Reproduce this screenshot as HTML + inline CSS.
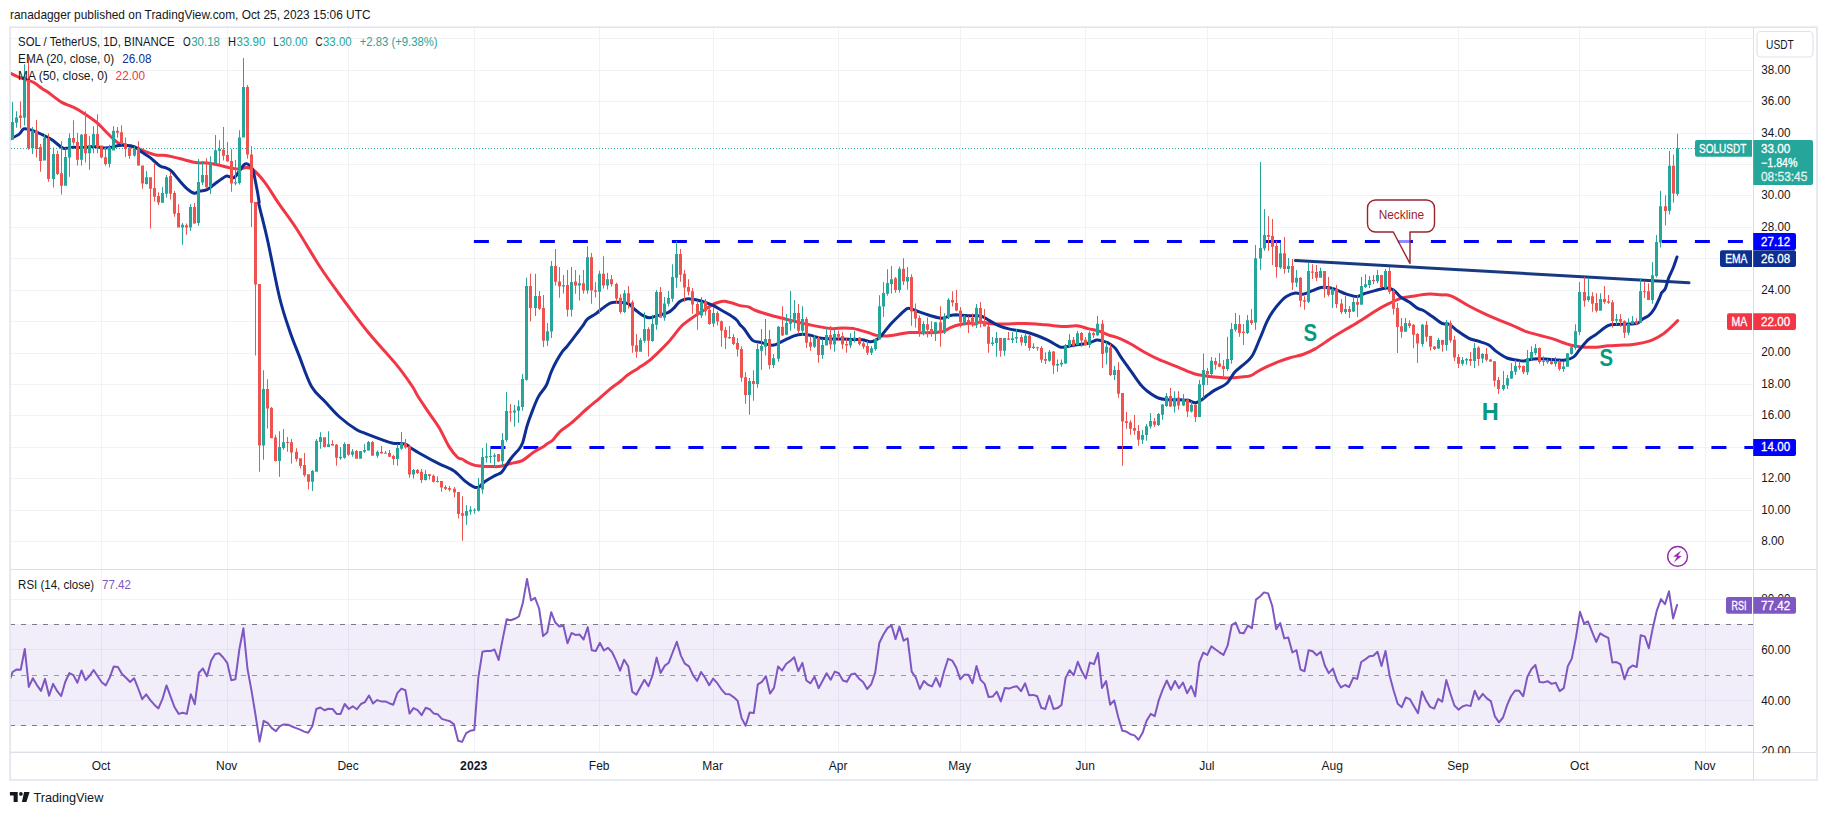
<!DOCTYPE html>
<html lang="en"><head><meta charset="utf-8"><title>SOL / TetherUS chart</title>
<style>html,body{margin:0;padding:0;background:#fff}body{width:1827px;height:815px;overflow:hidden}svg{display:block}</style>
</head><body>
<svg width="1827" height="815" viewBox="0 0 1827 815" font-family='"Liberation Sans", "DejaVu Sans", sans-serif' font-size="12" fill="#131722">
<rect width="1827" height="815" fill="#fff"/>
<defs><clipPath id="cm"><rect x="10.5" y="27.5" width="1743" height="542"/></clipPath><clipPath id="cr"><rect x="10.5" y="570" width="1743" height="182.5"/></clipPath></defs>
<path d="M101.5 27.5V752.5M227.5 27.5V752.5M348.5 27.5V752.5M474.5 27.5V752.5M599.5 27.5V752.5M713.5 27.5V752.5M838.5 27.5V752.5M960.5 27.5V752.5M1085.5 27.5V752.5M1207.5 27.5V752.5M1332.5 27.5V752.5M1458.5 27.5V752.5M1579.5 27.5V752.5M1705.5 27.5V752.5M10.5 541.5H1753.5M10.5 510.5H1753.5M10.5 478.5H1753.5M10.5 447.5H1753.5M10.5 415.5H1753.5M10.5 384.5H1753.5M10.5 353.5H1753.5M10.5 321.5H1753.5M10.5 290.5H1753.5M10.5 258.5H1753.5M10.5 227.5H1753.5M10.5 195.5H1753.5M10.5 164.5H1753.5M10.5 133.5H1753.5M10.5 101.5H1753.5M10.5 70.5H1753.5M10.5 38.5H1753.5M10.5 751.5H1753.5M10.5 700.5H1753.5M10.5 649.5H1753.5M10.5 599.5H1753.5" stroke="#f0f2f5" stroke-width="1" fill="none"/>
<rect x="10.5" y="624" width="1743" height="102" fill="#7e57c2" fill-opacity="0.1"/>
<path d="M10 624.5H1753.5" stroke="#787b86" stroke-width="1" stroke-dasharray="5 6" fill="none"/>
<path d="M10 675.5H1753.5" stroke="#9598a1" stroke-width="1" stroke-dasharray="5 6" fill="none"/>
<path d="M10 725.5H1753.5" stroke="#787b86" stroke-width="1" stroke-dasharray="5 6" fill="none"/>
<path d="M473.9 241.5H1753" stroke="#0000ff" stroke-width="3" stroke-dasharray="15 18" fill="none"/>
<path d="M490.4 447.5H1753" stroke="#0000ff" stroke-width="3" stroke-dasharray="15 18" fill="none"/>
<path d="M1295.5 260.6L1689 282.8" stroke="#173a80" stroke-width="3" stroke-linecap="round" fill="none"/>
<path d="M1375.5 200H1426.5a8 8 0 0 1 8 8V224a8 8 0 0 1 -8 8H1410V263.5L1393.3 232H1375.5a8 8 0 0 1 -8 -8V208a8 8 0 0 1 8 -8z" fill="#fff" fill-opacity="0.55" stroke="#9c2328" stroke-width="1.4" stroke-linejoin="round"/>
<text x="1378.7" y="219" fill="#9c2328" textLength="45.4" lengthAdjust="spacingAndGlyphs">Neckline</text>
<text x="1303.4" y="341.2" fill="#089981" font-size="23.5" font-weight="bold" textLength="13.6" lengthAdjust="spacingAndGlyphs">S</text>
<text x="1481.8" y="419.8" fill="#089981" font-size="23.5" font-weight="bold" textLength="17" lengthAdjust="spacingAndGlyphs">H</text>
<text x="1599.6" y="366" fill="#089981" font-size="23.5" font-weight="bold" textLength="13.6" lengthAdjust="spacingAndGlyphs">S</text>
<circle cx="1677.6" cy="556.4" r="9.9" stroke="#9c27b0" stroke-width="1.4" fill="none"/><path d="M1680.7 551.1L1673.4 556.5L1677.2 556.7L1674.2 561.9L1681.6 556.1L1678 556z" fill="#9c27b0" stroke="#9c27b0" stroke-width="0.2" stroke-linejoin="round"/>
<g clip-path="url(#cm)"><path d="M10.7 73.3C12.1 74.0 16.2 76.2 19.2 77.4C22.2 78.6 26.0 79.5 28.5 80.4C31.0 81.3 32.0 81.5 34.2 82.8C36.5 84.1 39.8 87.0 42.0 88.5C44.2 90.0 44.4 89.8 47.7 92.1C51.0 94.4 57.9 100.0 61.9 102.4C65.9 104.8 68.6 105.0 71.9 106.6C75.2 108.2 77.8 109.4 81.8 112.0C85.8 114.6 92.3 119.0 96.1 122.0C99.9 125.0 101.8 127.5 104.6 130.3C107.4 133.1 110.8 136.6 113.2 138.8C115.6 141.0 116.7 142.2 118.8 143.3C120.9 144.4 123.2 144.4 126.0 145.1C128.8 145.8 132.8 146.6 135.9 147.6C139.0 148.6 141.2 150.0 144.5 151.2C147.8 152.4 152.2 154.3 155.8 155.0C159.4 155.7 162.5 155.0 165.8 155.4C169.1 155.8 172.7 156.9 175.8 157.6C178.9 158.3 181.0 158.9 184.3 159.7C187.6 160.5 191.9 162.0 195.7 162.6C199.5 163.2 203.3 162.6 207.1 163.0C210.9 163.4 214.9 164.2 218.5 165.0C222.1 165.8 225.1 166.8 228.4 167.5C231.7 168.2 235.3 169.0 238.4 169.0C241.5 169.0 244.3 167.3 246.9 167.5C249.5 167.7 251.0 167.9 254.0 170.4C257.0 172.9 260.8 177.0 265.0 182.6C269.2 188.2 274.0 196.6 279.2 204.2C284.4 211.8 289.4 217.9 296.2 228.3C303.0 238.7 312.9 255.9 320.0 266.8C327.1 277.7 330.9 282.8 338.8 293.5C346.7 304.2 357.8 319.5 367.3 331.2C376.8 342.9 388.3 354.8 395.8 363.9C403.3 373.0 408.4 380.6 412.1 386.0C415.8 391.4 415.0 391.7 417.9 396.3C420.8 400.9 425.8 408.2 429.3 413.4C432.9 418.6 435.9 422.1 439.2 427.7C442.5 433.3 446.1 441.9 449.2 446.9C452.3 451.9 455.6 455.5 457.7 457.5C459.8 459.5 460.3 458.2 462.0 459.0C463.7 459.8 465.6 461.4 467.7 462.5C469.8 463.6 472.8 464.8 474.8 465.4C476.8 466.0 477.9 465.7 479.6 465.9C481.3 466.1 482.7 466.3 484.8 466.4C486.9 466.5 489.6 466.6 492.2 466.6C494.8 466.6 497.4 466.8 500.5 466.3C503.6 465.8 507.3 464.4 510.9 463.5C514.5 462.6 518.5 462.5 522.3 460.6C526.1 458.7 529.9 454.7 533.5 452.3C537.1 449.9 541.5 447.8 543.7 446.4C545.9 445.0 545.4 445.0 546.9 443.9C548.4 442.8 550.8 442.0 552.9 440.0C555.0 438.0 556.7 434.6 559.7 431.8C562.7 429.0 566.6 427.0 571.1 423.2C575.6 419.4 582.0 413.1 586.7 409.0C591.4 404.9 595.5 401.7 599.5 398.3C603.5 394.9 607.6 391.1 610.9 388.4C614.2 385.7 616.6 384.3 619.5 382.0C622.4 379.7 624.9 377.1 628.0 374.8C631.1 372.5 634.5 370.8 638.0 368.4C641.5 366.0 645.8 363.4 649.3 360.6C652.8 357.8 656.2 354.4 659.3 351.4C662.4 348.4 665.3 345.5 667.8 342.8C670.3 340.1 671.9 337.9 674.3 335.0C676.7 332.1 678.9 328.5 682.1 325.5C685.3 322.5 690.0 319.4 693.5 316.9C697.0 314.4 700.1 312.6 703.4 310.5C706.7 308.4 710.5 305.6 713.4 304.1C716.2 302.6 718.6 302.2 720.5 301.7C722.4 301.2 722.7 301.0 724.8 301.3C726.9 301.6 730.6 302.6 733.1 303.3C735.6 304.0 737.4 305.0 740.0 305.6C742.6 306.2 745.9 306.1 748.5 306.9C751.1 307.7 751.3 308.9 755.6 310.5C759.9 312.1 768.2 314.6 774.1 316.2C780.0 317.8 785.0 318.9 791.2 320.4C797.4 321.9 804.5 323.7 811.1 325.1C817.7 326.5 825.8 328.1 831.0 328.6C836.2 329.1 838.6 328.0 842.4 328.0C846.2 328.0 849.5 327.9 853.8 328.6C858.1 329.4 864.2 331.4 868.0 332.5C871.8 333.6 873.6 334.8 876.5 335.4C879.4 336.0 881.8 336.2 885.1 336.1C888.4 336.0 892.5 335.3 896.5 334.7C900.5 334.1 904.6 332.8 909.3 332.5C914.0 332.2 919.4 332.9 924.9 332.8C930.4 332.7 937.7 332.7 942.0 331.8C946.3 330.9 947.6 328.8 950.5 327.6C953.4 326.4 955.8 325.4 959.1 324.7C962.4 324.0 968.0 323.4 970.5 323.3C973.0 323.2 972.6 324.3 974.2 324.1C975.8 323.9 977.6 322.0 980.0 321.9C982.4 321.8 984.7 323.0 988.5 323.4C992.3 323.8 996.8 324.1 1002.7 324.1C1008.6 324.1 1016.9 323.3 1024.0 323.4C1031.1 323.5 1039.0 324.3 1045.4 324.8C1051.8 325.3 1057.3 326.4 1062.5 326.6C1067.7 326.8 1072.4 325.5 1076.7 325.8C1081.0 326.1 1084.3 327.7 1088.1 328.6C1091.9 329.5 1096.2 330.2 1099.5 331.2C1102.8 332.2 1104.7 333.6 1108.0 334.8C1111.3 336.0 1115.6 336.8 1119.4 338.3C1123.2 339.8 1126.5 341.6 1130.8 344.0C1135.1 346.4 1140.3 349.9 1145.0 352.5C1149.7 355.1 1154.5 357.6 1159.2 359.7C1164.0 361.8 1170.1 363.9 1173.5 365.3C1176.9 366.7 1177.2 366.8 1179.6 367.8C1182.0 368.8 1184.7 370.1 1187.7 371.3C1190.8 372.5 1194.3 374.0 1197.9 374.8C1201.5 375.6 1205.4 375.9 1209.3 376.4C1213.2 376.9 1217.6 377.3 1221.2 377.6C1224.8 377.9 1227.5 378.2 1230.8 378.1C1234.1 378.0 1237.5 377.5 1240.8 377.1C1244.1 376.7 1247.9 376.6 1250.8 375.6C1253.7 374.6 1255.2 372.8 1258.1 371.2C1261.0 369.6 1264.7 367.8 1268.1 366.2C1271.5 364.6 1275.0 363.0 1278.7 361.6C1282.4 360.2 1286.1 358.9 1290.1 357.7C1294.1 356.5 1298.7 356.0 1302.9 354.5C1307.1 353.0 1310.3 351.7 1315.2 348.9C1320.1 346.1 1327.1 340.8 1332.3 337.5C1337.5 334.2 1341.8 331.8 1346.5 329.0C1351.2 326.2 1356.0 323.5 1360.8 320.5C1365.5 317.5 1370.3 314.1 1375.0 311.2C1379.7 308.3 1384.9 305.5 1389.2 303.4C1393.5 301.3 1396.8 299.6 1400.6 298.4C1404.4 297.2 1407.2 297.0 1412.0 296.3C1416.8 295.6 1424.3 294.4 1429.1 294.1C1433.8 293.9 1436.8 294.5 1440.5 294.8C1444.2 295.1 1446.7 294.3 1451.4 296.1C1456.1 297.9 1463.3 302.9 1468.5 305.7C1473.7 308.5 1478.0 310.6 1482.7 312.8C1487.4 315.1 1492.2 317.2 1496.9 319.2C1501.7 321.2 1506.5 322.9 1511.2 324.9C1516.0 326.9 1520.7 329.6 1525.4 331.3C1530.1 333.0 1534.9 334.0 1539.6 335.3C1544.3 336.6 1549.5 337.8 1553.8 339.1C1558.1 340.5 1561.9 342.3 1565.2 343.4C1568.5 344.5 1570.5 345.2 1573.8 345.8C1577.1 346.4 1581.4 347.0 1585.2 347.2C1589.0 347.4 1592.7 347.4 1596.5 347.2C1600.3 347.0 1604.1 346.1 1607.9 345.8C1611.7 345.5 1615.5 345.4 1619.3 345.2C1623.1 345.0 1626.9 345.2 1630.7 344.8C1634.5 344.4 1638.5 343.7 1642.1 342.9C1645.6 342.1 1648.7 341.5 1652.0 340.1C1655.3 338.8 1658.9 336.9 1662.0 334.8C1665.1 332.7 1667.9 330.1 1670.5 327.7C1673.1 325.3 1676.5 321.8 1677.7 320.6" stroke="#f23645" stroke-width="3" fill="none" stroke-linejoin="round" stroke-linecap="round" /></g>
<g clip-path="url(#cm)"><path d="M10.7 138.8C12.1 138.0 16.9 135.8 19.2 134.1C21.4 132.4 21.8 129.4 24.2 128.8C26.6 128.2 30.3 129.8 33.5 130.8C36.7 131.9 40.3 133.6 43.4 135.1C46.5 136.6 48.9 137.7 52.0 139.8C55.1 141.9 59.5 146.2 61.9 147.6C64.3 149.0 64.3 148.4 66.2 148.3C68.1 148.2 70.2 147.3 73.3 147.2C76.4 147.1 81.4 147.7 84.7 147.6C88.0 147.5 89.9 146.4 93.2 146.5C96.5 146.6 101.3 147.8 104.6 147.9C107.9 148.0 110.8 147.3 113.2 146.9C115.6 146.5 116.7 145.7 118.8 145.5C120.9 145.3 123.4 145.3 126.0 145.5C128.6 145.7 131.9 145.8 134.5 146.9C137.1 148.0 139.0 150.1 141.6 151.9C144.2 153.7 147.1 155.2 150.2 157.6C153.3 160.0 157.5 164.4 160.1 166.1C162.7 167.8 163.9 167.0 165.8 167.8C167.7 168.6 169.4 169.1 171.5 171.1C173.6 173.1 176.0 176.6 178.6 179.6C181.2 182.6 184.6 186.6 187.2 188.9C189.8 191.2 192.2 192.8 194.3 193.2C196.4 193.5 197.9 191.6 200.0 191.0C202.1 190.4 204.5 190.9 207.1 189.6C209.7 188.3 213.0 185.1 215.6 183.2C218.2 181.3 220.8 179.4 222.7 178.2C224.6 177.0 225.1 176.2 227.0 176.1C228.9 176.0 232.0 178.4 234.1 177.5C236.2 176.6 238.1 172.5 239.8 170.4C241.5 168.3 242.8 165.8 244.1 164.7C245.4 163.6 246.2 163.3 247.6 164.0C249.0 164.7 251.3 166.0 252.6 169.0C253.9 172.0 254.4 176.5 255.5 181.8C256.6 187.1 258.4 197.0 259.0 201.0C259.6 205.0 257.7 198.9 259.2 205.6C260.7 212.3 264.4 225.7 267.8 241.2C271.2 256.7 276.1 283.5 279.8 298.5C283.5 313.5 286.6 321.7 289.8 331.2C293.0 340.7 295.4 346.2 299.0 355.4C302.6 364.6 307.1 378.7 311.5 386.5C315.9 394.3 320.7 396.9 325.4 402.0C330.1 407.1 334.4 412.4 339.6 417.0C344.8 421.6 352.4 427.1 356.7 429.8C361.0 432.5 360.9 431.6 365.2 433.3C369.5 435.0 377.7 438.1 382.3 439.8C386.9 441.5 389.2 442.6 393.0 443.3C396.8 444.0 402.1 443.2 405.1 444.0C408.1 444.8 408.0 446.1 410.8 447.9C413.6 449.7 417.5 452.0 422.2 454.7C426.9 457.4 433.9 461.2 439.2 463.9C444.4 466.6 449.4 467.9 453.7 470.8C458.0 473.7 461.8 478.4 465.1 481.1C468.4 483.8 471.4 485.8 473.7 486.8C475.9 487.8 476.7 488.1 478.6 487.2C480.5 486.3 482.6 483.2 485.0 481.5C487.4 479.8 490.5 478.0 492.9 476.7C495.2 475.4 497.5 474.6 499.1 473.7C500.7 472.8 500.4 473.8 502.4 471.3C504.4 468.8 508.0 462.3 510.9 458.5C513.8 454.7 517.5 451.3 519.5 448.5C521.5 445.7 521.6 445.6 522.9 441.9C524.1 438.2 525.6 430.8 527.0 426.1C528.4 421.5 529.3 418.9 531.2 414.0C533.1 409.1 535.8 401.6 538.3 396.9C540.8 392.1 544.1 389.6 546.2 385.5C548.4 381.4 549.4 376.1 551.2 372.0C553.0 367.9 554.9 364.0 556.8 360.6C558.7 357.2 560.8 353.7 562.5 351.4C564.2 349.1 565.1 348.7 566.8 346.7C568.5 344.7 570.9 341.4 572.5 339.3C574.1 337.2 574.7 336.4 576.4 334.2C578.1 332.0 580.7 328.7 582.5 326.2C584.3 323.7 585.3 321.1 587.4 319.1C589.5 317.1 592.8 315.9 595.3 314.1C597.8 312.3 599.9 310.2 602.4 308.4C604.9 306.6 607.8 304.1 610.2 303.1C612.6 302.1 613.6 302.2 616.6 302.3C619.6 302.4 624.9 302.4 628.0 303.7C631.1 304.9 632.7 307.9 635.1 309.8C637.5 311.7 639.8 313.8 642.2 315.1C644.6 316.4 646.9 317.6 649.3 317.7C651.7 317.8 653.4 316.7 656.5 315.9C659.6 315.1 665.0 313.9 667.8 312.7C670.6 311.4 671.6 310.2 673.5 308.4C675.4 306.6 677.3 303.5 679.2 302.0C681.1 300.5 683.0 299.7 684.9 299.2C686.8 298.7 687.8 298.5 690.6 298.9C693.5 299.2 698.2 300.2 702.0 301.3C705.8 302.4 710.1 304.1 713.4 305.6C716.7 307.1 719.2 309.0 721.9 310.5C724.6 312.0 727.0 313.2 729.5 314.8C732.0 316.4 734.9 318.3 736.6 320.0C738.4 321.7 738.7 323.3 740.0 324.8C741.3 326.3 742.1 326.4 744.2 329.0C746.3 331.6 749.9 338.1 752.7 340.4C755.6 342.6 758.0 341.7 761.3 342.5C764.6 343.3 769.2 345.5 772.7 345.3C776.2 345.1 779.1 342.7 782.6 341.1C786.1 339.5 790.7 337.0 794.0 335.8C797.3 334.6 799.6 334.3 802.5 334.2C805.4 334.1 808.2 334.8 811.1 335.4C814.0 336.0 816.3 337.3 819.6 337.9C822.9 338.5 827.2 338.7 831.0 338.9C834.8 339.1 838.6 338.8 842.4 338.9C846.2 339.0 850.5 339.3 853.8 339.4C857.1 339.5 859.5 339.3 862.3 339.7C865.1 340.1 868.4 341.8 870.8 341.8C873.2 341.8 874.7 340.8 876.5 339.7C878.3 338.6 879.1 338.0 881.5 335.4C883.9 332.8 887.8 327.3 890.8 324.0C893.8 320.7 896.6 318.1 899.3 315.5C902.0 312.9 905.0 309.7 907.1 308.6C909.2 307.5 910.1 308.6 912.1 309.1C914.1 309.7 916.1 310.8 919.2 311.9C922.3 313.0 926.8 314.6 930.6 315.7C934.4 316.8 938.7 318.3 942.0 318.3C945.3 318.3 948.1 316.1 950.5 315.5C952.9 314.9 953.3 314.8 956.2 314.8C959.1 314.9 964.0 315.6 968.1 315.8C972.2 316.0 977.3 315.3 980.7 316.0C984.1 316.7 985.3 318.4 988.5 320.1C991.7 321.8 996.2 324.7 999.8 326.2C1003.3 327.7 1005.8 328.2 1009.8 329.1C1013.8 330.0 1019.5 330.4 1024.0 331.5C1028.5 332.6 1032.8 334.0 1036.8 335.5C1040.8 337.0 1044.4 338.5 1048.2 340.4C1052.0 342.3 1056.8 345.7 1059.6 346.8C1062.4 347.9 1062.4 347.2 1065.3 346.8C1068.2 346.4 1072.9 345.3 1076.7 344.7C1080.5 344.1 1084.8 344.1 1088.1 343.3C1091.4 342.5 1094.2 340.4 1096.6 340.0C1099.0 339.6 1100.4 340.4 1102.3 340.9C1104.2 341.4 1105.9 341.7 1108.0 342.9C1110.1 344.1 1113.0 345.7 1115.1 348.0C1117.2 350.3 1118.8 353.8 1120.8 356.8C1122.8 359.8 1124.9 362.6 1127.4 366.2C1129.9 369.8 1133.5 374.8 1136.0 378.3C1138.5 381.8 1140.2 384.4 1142.7 387.0C1145.2 389.6 1148.6 392.3 1151.2 394.1C1153.8 395.9 1155.9 397.1 1158.3 398.0C1160.7 398.9 1161.9 399.1 1165.4 399.4C1169.0 399.7 1175.8 399.6 1179.6 399.8C1183.4 400.0 1185.6 399.8 1188.2 400.3C1190.8 400.8 1193.2 402.7 1195.3 402.7C1197.4 402.7 1198.9 401.6 1201.0 400.3C1203.1 399.0 1205.7 396.5 1208.1 394.8C1210.5 393.1 1212.1 391.8 1215.2 389.9C1218.3 388.0 1223.4 386.4 1226.6 383.5C1229.8 380.6 1232.0 375.2 1234.6 372.2C1237.2 369.2 1239.3 368.3 1242.2 365.7C1245.1 363.1 1249.0 360.8 1251.9 356.3C1254.8 351.9 1257.2 344.7 1259.7 339.0C1262.2 333.3 1264.7 326.4 1266.8 321.9C1268.9 317.4 1270.3 315.1 1272.5 311.9C1274.7 308.7 1277.3 305.3 1279.7 302.7C1282.1 300.1 1284.2 297.9 1286.8 296.3C1289.4 294.7 1292.5 293.5 1295.3 293.1C1298.1 292.7 1300.9 294.5 1303.8 294.1C1306.7 293.7 1309.6 291.7 1312.4 290.6C1315.2 289.5 1318.1 287.9 1320.9 287.4C1323.8 286.9 1326.9 287.3 1329.5 287.7C1332.1 288.1 1333.8 288.8 1336.6 289.9C1339.4 291.0 1343.2 293.0 1346.5 294.1C1349.8 295.2 1353.4 296.7 1356.5 296.6C1359.6 296.5 1361.9 294.4 1365.0 293.4C1368.1 292.4 1371.4 291.5 1375.0 290.6C1378.6 289.7 1383.3 288.1 1386.4 288.0C1389.5 287.9 1391.1 288.4 1393.5 289.9C1395.9 291.4 1398.0 295.0 1400.6 297.0C1403.2 299.0 1406.3 300.1 1409.2 302.0C1412.1 303.9 1415.3 307.0 1417.7 308.4C1420.1 309.8 1421.0 309.2 1423.4 310.5C1425.8 311.8 1428.8 314.1 1431.9 316.2C1435.0 318.3 1439.0 321.9 1441.9 323.3C1444.8 324.7 1446.8 323.1 1449.3 324.3C1451.8 325.5 1453.9 328.3 1457.1 330.6C1460.3 332.9 1465.0 336.3 1468.5 338.1C1472.0 339.9 1475.1 340.1 1478.4 341.2C1481.7 342.3 1485.3 343.0 1488.4 344.8C1491.5 346.6 1493.8 349.7 1496.9 351.9C1500.0 354.1 1503.6 356.6 1506.9 358.0C1510.2 359.4 1514.0 359.5 1516.8 360.0C1519.6 360.5 1521.2 361.1 1524.0 360.9C1526.8 360.7 1530.4 359.3 1533.9 359.0C1537.5 358.7 1541.5 358.8 1545.3 359.0C1549.1 359.2 1553.4 359.8 1556.7 360.0C1560.0 360.2 1562.4 360.5 1565.2 360.0C1568.0 359.5 1571.4 358.6 1573.8 356.9C1576.2 355.2 1577.1 352.6 1579.5 349.8C1581.9 347.0 1585.2 342.4 1588.0 339.8C1590.8 337.2 1593.2 336.5 1596.5 334.1C1599.8 331.7 1604.6 327.2 1607.9 325.6C1611.2 324.0 1613.7 324.6 1616.5 324.4C1619.3 324.2 1621.5 324.4 1625.0 324.2C1628.5 324.0 1634.3 324.2 1637.3 323.3C1640.2 322.4 1640.8 320.2 1642.7 318.9C1644.6 317.6 1646.8 317.2 1648.7 315.6C1650.6 314.0 1652.4 312.0 1654.2 309.0C1656.0 306.0 1658.5 300.3 1659.7 297.6C1660.9 294.9 1660.7 294.3 1661.6 292.8C1662.5 291.3 1664.1 291.0 1665.3 288.6C1666.5 286.2 1667.2 281.8 1668.5 278.4C1669.8 275.0 1671.6 271.9 1673.0 268.3C1674.4 264.7 1676.3 258.9 1677.0 257.0" stroke="#0c2f91" stroke-width="3" fill="none" stroke-linejoin="round" stroke-linecap="round" /></g>
<g clip-path="url(#cm)"><path d="M19 115.6h3V118.0h-3zM20 101.4h1V128.4h-1zM27 79.9h3V148.3h-3zM28 57.2h1V149.8h-1zM35 130.5h3V149.0h-3zM36 119.9h1V157.6h-1zM39 146.9h3V161.1h-3zM40 144.1h1V171.8h-1zM47 138.4h3V178.9h-3zM48 133.4h1V181.8h-1zM56 154.0h3V173.9h-3zM57 150.5h1V174.9h-1zM60 173.2h3V185.8h-3zM61 141.2h1V194.6h-1zM72 137.9h3V142.6h-3zM73 120.3h1V144.8h-1zM76 141.9h3V159.7h-3zM77 132.7h1V165.4h-1zM84 134.1h3V153.3h-3zM85 111.3h1V162.6h-1zM96 134.1h3V147.6h-3zM97 114.2h1V153.3h-1zM100 145.5h3V157.6h-3zM101 145.5h1V158.3h-1zM104 157.3h3V164.0h-3zM105 147.6h1V165.8h-1zM116 130.8h3V132.7h-3zM117 127.0h1V137.7h-1zM120 132.2h3V144.1h-3zM121 125.3h1V144.8h-1zM124 143.3h3V149.0h-3zM125 137.4h1V156.9h-1zM128 148.3h3V155.9h-3zM129 147.6h1V158.7h-1zM137 149.0h3V165.4h-3zM138 141.2h1V165.8h-1zM141 165.4h3V183.5h-3zM142 165.4h1V188.7h-1zM149 177.2h3V188.7h-3zM150 177.2h1V228.6h-1zM153 188.1h3V196.7h-3zM154 164.0h1V201.6h-1zM157 196.0h3V202.4h-3zM158 192.3h1V204.9h-1zM169 175.9h3V193.7h-3zM170 171.9h1V199.4h-1zM173 193.0h3V213.8h-3zM174 191.0h1V216.7h-1zM177 213.0h3V227.6h-3zM178 204.2h1V227.6h-1zM185 225.2h3V227.6h-3zM186 223.4h1V234.8h-1zM193 207.0h3V223.4h-3zM194 203.0h1V223.8h-1zM205 174.9h3V187.2h-3zM206 158.3h1V188.6h-1zM222 149.8h3V155.7h-3zM223 127.0h1V160.4h-1zM226 155.0h3V161.6h-3zM227 141.9h1V161.8h-1zM230 161.1h3V183.5h-3zM231 149.3h1V191.7h-1zM246 87.1h3V154.4h-3zM247 84.9h1V158.7h-1zM250 154.4h3V202.7h-3zM251 146.2h1V226.9h-1zM254 202.0h3V284.6h-3zM255 202.0h1V355.4h-1zM258 284.0h3V445.4h-3zM259 284.0h1V471.8h-1zM266 388.9h3V408.4h-3zM267 379.3h1V428.4h-1zM270 408.0h3V438.3h-3zM271 407.0h1V438.3h-1zM274 437.6h3V461.1h-3zM275 434.8h1V461.5h-1zM286 441.9h3V443.0h-3zM287 436.9h1V451.8h-1zM290 442.2h3V452.6h-3zM291 439.0h1V463.5h-1zM295 451.8h3V459.0h-3zM296 448.3h1V461.5h-1zM299 458.3h3V466.1h-3zM300 458.3h1V468.6h-1zM303 464.9h3V475.3h-3zM304 453.0h1V476.8h-1zM307 474.3h3V481.7h-3zM308 474.3h1V489.6h-1zM323 437.2h3V446.9h-3zM324 437.2h1V447.6h-1zM331 444.0h3V445.4h-3zM332 440.2h1V445.7h-1zM335 444.7h3V457.8h-3zM336 444.0h1V465.8h-1zM347 444.0h3V454.7h-3zM348 444.0h1V455.8h-1zM355 451.1h3V458.7h-3zM356 450.1h1V458.7h-1zM371 441.9h3V455.7h-3zM372 440.9h1V455.7h-1zM380 451.8h3V453.6h-3zM381 445.9h1V453.7h-1zM388 453.0h3V456.8h-3zM389 450.1h1V457.1h-1zM392 456.1h3V459.0h-3zM393 455.1h1V464.9h-1zM404 443.3h3V447.6h-3zM405 439.0h1V448.7h-1zM408 446.2h3V474.6h-3zM409 444.4h1V477.7h-1zM416 470.1h3V472.9h-3zM417 468.9h1V473.9h-1zM420 471.8h3V480.0h-3zM421 468.9h1V482.9h-1zM428 474.3h3V476.0h-3zM429 473.9h1V479.6h-1zM432 475.8h3V481.7h-3zM433 474.6h1V482.4h-1zM436 481.0h3V482.0h-3zM437 476.3h1V482.6h-1zM440 481.1h3V487.5h-3zM441 481.1h1V491.8h-1zM444 486.9h3V488.8h-3zM445 485.3h1V489.9h-1zM448 488.0h3V489.8h-3zM449 486.1h1V491.6h-1zM453 488.7h3V492.4h-3zM454 487.1h1V497.6h-1zM457 491.9h3V514.0h-3zM458 491.9h1V518.6h-1zM461 513.3h3V515.7h-3zM462 496.2h1V540.8h-1zM497 453.9h3V461.6h-3zM498 453.9h1V462.1h-1zM509 411.4h3V412.6h-3zM510 404.0h1V421.8h-1zM529 286.1h3V308.0h-3zM530 273.8h1V321.2h-1zM538 296.0h3V308.8h-3zM539 290.9h1V309.8h-1zM542 308.0h3V340.7h-3zM543 294.9h1V347.1h-1zM554 266.1h3V281.8h-3zM555 249.1h1V285.6h-1zM558 281.4h3V286.3h-3zM559 267.1h1V297.7h-1zM566 284.9h3V309.8h-3zM567 270.0h1V316.5h-1zM574 281.4h3V285.6h-3zM575 270.0h1V293.7h-1zM582 283.2h3V290.6h-3zM583 270.0h1V293.7h-1zM590 257.2h3V290.6h-3zM591 252.9h1V303.7h-1zM594 290.2h3V291.8h-3zM595 282.1h1V297.4h-1zM602 273.8h3V285.6h-3zM603 256.2h1V288.5h-1zM610 279.2h3V284.2h-3zM611 275.0h1V286.6h-1zM615 283.9h3V298.4h-3zM616 282.8h1V304.1h-1zM619 297.7h3V312.0h-3zM620 294.2h1V313.8h-1zM627 293.2h3V302.7h-3zM628 286.1h1V308.4h-1zM631 302.0h3V345.7h-3zM632 300.3h1V352.8h-1zM635 345.2h3V351.8h-3zM636 334.0h1V357.8h-1zM647 329.0h3V340.7h-3zM648 327.3h1V356.6h-1zM659 292.0h3V317.7h-3zM660 287.1h1V317.7h-1zM679 253.9h3V274.7h-3zM680 249.1h1V281.8h-1zM683 273.8h3V287.5h-3zM684 270.0h1V301.7h-1zM687 287.1h3V291.8h-3zM688 279.2h1V295.6h-1zM691 291.3h3V304.6h-3zM692 288.1h1V313.8h-1zM696 304.1h3V314.5h-3zM697 300.3h1V329.8h-1zM704 301.7h3V311.3h-3zM705 298.9h1V315.5h-1zM708 309.8h3V324.1h-3zM709 306.0h1V324.8h-1zM716 313.0h3V321.6h-3zM717 311.3h1V325.5h-1zM720 321.2h3V330.5h-3zM721 320.5h1V346.7h-1zM724 330.1h3V337.8h-3zM725 327.1h1V348.9h-1zM728 336.9h3V338.3h-3zM729 326.0h1V339.0h-1zM732 337.0h3V343.9h-3zM733 334.0h1V345.0h-1zM736 343.0h3V349.4h-3zM737 338.1h1V356.6h-1zM740 349.0h3V377.7h-3zM741 346.2h1V381.7h-1zM744 377.3h3V394.9h-3zM745 372.2h1V403.8h-1zM752 381.0h3V383.9h-3zM753 370.3h1V400.7h-1zM768 338.9h3V364.9h-3zM769 330.0h1V369.3h-1zM781 326.8h3V335.4h-3zM782 306.2h1V336.1h-1zM797 312.9h3V330.8h-3zM798 304.1h1V334.0h-1zM805 319.0h3V342.8h-3zM806 316.9h1V347.9h-1zM809 342.2h3V346.8h-3zM810 337.1h1V350.8h-1zM817 337.9h3V355.0h-3zM818 336.1h1V362.7h-1zM829 335.1h3V344.6h-3zM830 326.1h1V349.6h-1zM837 334.0h3V336.8h-3zM838 330.8h1V340.8h-1zM841 336.1h3V344.6h-3zM842 332.3h1V348.9h-1zM845 343.9h3V345.6h-3zM846 337.5h1V352.7h-1zM858 337.5h3V343.9h-3zM859 337.1h1V345.6h-1zM862 343.2h3V346.8h-3zM863 341.1h1V348.9h-1zM866 346.1h3V352.7h-3zM867 341.1h1V355.0h-1zM894 278.2h3V290.1h-3zM895 277.0h1V292.7h-1zM902 268.8h3V281.6h-3zM903 258.3h1V284.9h-1zM910 277.0h3V311.5h-3zM911 274.2h1V325.7h-1zM914 310.5h3V318.6h-3zM915 303.4h1V327.6h-1zM918 318.0h3V332.5h-3zM919 315.5h1V336.8h-1zM926 324.3h3V329.7h-3zM927 317.6h1V337.5h-1zM930 329.0h3V332.5h-3zM931 321.2h1V336.8h-1zM939 322.3h3V332.5h-3zM940 306.2h1V346.8h-1zM951 300.1h3V302.4h-3zM952 291.3h1V306.6h-1zM955 302.9h3V310.5h-3zM956 290.1h1V311.2h-1zM959 310.5h3V322.3h-3zM960 306.9h1V327.6h-1zM967 320.1h3V322.3h-3zM968 316.2h1V332.9h-1zM971 318.1h3V325.2h-3zM972 313.4h1V326.9h-1zM979 308.1h3V323.4h-3zM980 302.0h1V327.6h-1zM983 321.2h3V326.6h-3zM984 309.1h1V326.6h-1zM987 326.6h3V343.7h-3zM988 324.8h1V352.8h-1zM999 338.0h3V350.8h-3zM1000 338.0h1V356.8h-1zM1007 338.6h3V339.7h-3zM1008 331.9h1V340.0h-1zM1020 336.9h3V342.6h-3zM1021 334.8h1V345.7h-1zM1028 335.7h3V348.0h-3zM1029 334.8h1V350.8h-1zM1036 347.3h3V348.3h-3zM1037 346.8h1V350.8h-1zM1040 348.0h3V359.7h-3zM1041 346.1h1V362.8h-1zM1044 358.9h3V360.8h-3zM1045 352.3h1V363.9h-1zM1052 351.4h3V365.6h-3zM1053 351.1h1V373.9h-1zM1072 339.7h3V345.4h-3zM1073 336.9h1V347.6h-1zM1080 332.9h3V340.4h-3zM1081 331.9h1V346.8h-1zM1084 339.7h3V345.1h-3zM1085 336.9h1V345.4h-1zM1092 333.3h3V335.2h-3zM1093 331.9h1V338.0h-1zM1101 323.8h3V354.0h-3zM1102 320.1h1V367.9h-1zM1109 347.6h3V375.0h-3zM1110 344.0h1V376.0h-1zM1117 370.1h3V393.7h-3zM1118 362.2h1V397.7h-1zM1121 393.1h3V421.6h-3zM1122 393.1h1V465.7h-1zM1125 421.2h3V423.0h-3zM1126 411.9h1V428.7h-1zM1129 422.2h3V428.7h-3zM1130 420.2h1V434.7h-1zM1133 427.9h3V430.7h-3zM1134 415.1h1V434.7h-1zM1137 431.1h3V439.7h-3zM1138 425.0h1V445.8h-1zM1153 421.2h3V424.7h-3zM1154 417.9h1V426.9h-1zM1169 396.0h3V406.5h-3zM1170 388.0h1V406.9h-1zM1177 397.4h3V405.5h-3zM1178 391.3h1V409.8h-1zM1186 399.8h3V411.6h-3zM1187 398.4h1V416.9h-1zM1194 404.8h3V416.9h-3zM1195 404.1h1V421.9h-1zM1206 371.1h3V374.2h-3zM1207 368.1h1V384.9h-1zM1214 360.9h3V364.7h-3zM1215 357.8h1V369.5h-1zM1218 363.6h3V366.7h-3zM1219 352.9h1V367.3h-1zM1222 366.1h3V368.9h-3zM1223 360.0h1V377.8h-1zM1238 324.0h3V333.0h-3zM1239 315.1h1V336.8h-1zM1242 331.8h3V333.0h-3zM1243 324.0h1V344.9h-1zM1250 320.2h3V323.0h-3zM1251 309.1h1V325.0h-1zM1267 235.1h3V236.8h-3zM1268 216.2h1V250.8h-1zM1271 236.1h3V246.8h-3zM1272 219.0h1V265.0h-1zM1275 246.1h3V267.1h-3zM1276 241.1h1V277.8h-1zM1283 253.2h3V268.9h-3zM1284 237.1h1V273.8h-1zM1291 266.1h3V282.8h-3zM1292 259.1h1V289.9h-1zM1299 277.8h3V300.8h-3zM1300 277.1h1V306.9h-1zM1303 300.3h3V301.7h-3zM1304 296.3h1V309.8h-1zM1311 271.4h3V272.8h-3zM1312 264.3h1V278.9h-1zM1315 272.1h3V277.8h-3zM1316 265.0h1V280.9h-1zM1323 270.9h3V289.2h-3zM1324 270.9h1V297.7h-1zM1327 287.0h3V294.8h-3zM1328 277.1h1V296.6h-1zM1335 288.9h3V304.1h-3zM1336 284.9h1V307.9h-1zM1340 303.4h3V311.9h-3zM1341 299.1h1V314.1h-1zM1348 309.1h3V311.9h-3zM1349 305.9h1V317.9h-1zM1356 302.0h3V304.8h-3zM1357 295.1h1V316.9h-1zM1372 279.9h3V281.3h-3zM1373 274.9h1V284.2h-1zM1380 274.9h3V287.0h-3zM1381 274.9h1V287.0h-1zM1388 270.9h3V291.7h-3zM1389 267.1h1V294.1h-1zM1392 290.9h3V308.8h-3zM1393 289.2h1V314.8h-1zM1396 307.9h3V326.9h-3zM1397 302.7h1V352.9h-1zM1400 326.2h3V331.8h-3zM1401 317.9h1V337.8h-1zM1408 323.3h3V325.9h-3zM1409 320.2h1V327.9h-1zM1412 324.7h3V334.7h-3zM1413 324.0h1V348.2h-1zM1416 334.0h3V343.5h-3zM1417 333.0h1V362.9h-1zM1425 324.7h3V336.8h-3zM1426 320.9h1V341.8h-1zM1429 336.1h3V346.8h-3zM1430 335.8h1V350.6h-1zM1433 346.4h3V348.9h-3zM1434 346.1h1V350.1h-1zM1441 340.1h3V344.7h-3zM1442 339.7h1V351.8h-1zM1449 323.0h3V340.5h-3zM1450 320.6h1V342.7h-1zM1453 339.8h3V357.6h-3zM1454 335.8h1V360.9h-1zM1457 356.9h3V363.7h-3zM1458 354.0h1V368.0h-1zM1469 359.0h3V360.9h-3zM1470 351.9h1V365.7h-1zM1477 347.6h3V359.0h-3zM1478 346.2h1V365.7h-1zM1485 354.0h3V359.7h-3zM1486 348.1h1V361.6h-1zM1489 359.4h3V361.6h-3zM1490 359.0h1V361.9h-1zM1493 361.2h3V380.8h-3zM1494 360.9h1V386.8h-1zM1497 379.9h3V388.9h-3zM1498 377.1h1V393.9h-1zM1518 365.7h3V367.6h-3zM1519 360.9h1V369.7h-1zM1522 366.1h3V372.3h-3zM1523 365.4h1V374.0h-1zM1538 348.1h3V361.9h-3zM1539 347.6h1V363.7h-1zM1542 360.9h3V361.9h-3zM1543 356.2h1V365.7h-1zM1550 361.2h3V364.0h-3zM1551 358.0h1V364.7h-1zM1558 361.9h3V369.0h-3zM1559 360.0h1V370.8h-1zM1583 292.1h3V300.7h-3zM1584 277.1h1V306.8h-1zM1591 296.3h3V303.7h-3zM1592 292.2h1V311.8h-1zM1595 303.1h3V310.8h-3zM1596 293.2h1V312.6h-1zM1603 299.1h3V301.9h-3zM1604 286.1h1V303.7h-1zM1607 301.3h3V302.8h-3zM1608 295.0h1V303.7h-1zM1611 302.2h3V321.0h-3zM1612 300.1h1V327.7h-1zM1619 319.1h3V321.7h-3zM1620 314.1h1V326.7h-1zM1623 321.0h3V332.7h-3zM1624 320.2h1V338.1h-1zM1635 321.0h3V323.4h-3zM1636 318.2h1V325.6h-1zM1643 291.2h3V292.2h-3zM1644 281.2h1V297.9h-1zM1647 291.2h3V299.9h-3zM1648 283.2h1V299.9h-1zM1664 206.3h3V211.1h-3zM1665 195.2h1V225.5h-1zM1672 165.8h3V193.4h-3zM1673 154.8h1V202.7h-1z" fill="#ef5350"/><path d="M11 122.0h3V139.8h-3zM12 102.1h1V139.8h-1zM15 117.4h3V122.7h-3zM16 111.3h1V127.7h-1zM23 76.4h3V117.7h-3zM24 64.3h1V125.6h-1zM31 130.5h3V148.3h-3zM32 127.0h1V154.0h-1zM43 137.7h3V160.4h-3zM44 134.1h1V160.4h-1zM52 154.0h3V178.9h-3zM53 147.6h1V187.5h-1zM64 156.9h3V185.8h-3zM65 149.8h1V185.8h-1zM68 137.9h3V157.6h-3zM69 133.4h1V176.8h-1zM80 134.8h3V159.7h-3zM81 134.1h1V165.4h-1zM88 145.5h3V153.3h-3zM89 136.2h1V169.7h-1zM92 134.1h3V146.2h-3zM93 126.3h1V153.3h-1zM108 146.9h3V163.7h-3zM109 144.8h1V167.5h-1zM112 130.8h3V150.5h-3zM113 126.3h1V150.5h-1zM133 149.0h3V155.4h-3zM134 146.2h1V156.6h-1zM145 177.2h3V183.9h-3zM146 171.1h1V184.6h-1zM161 193.1h3V202.7h-3zM162 187.1h1V203.0h-1zM165 177.2h3V193.7h-3zM166 175.0h1V197.6h-1zM181 224.8h3V227.6h-3zM182 222.9h1V244.7h-1zM189 207.0h3V227.6h-3zM190 204.2h1V230.9h-1zM197 182.1h3V222.9h-3zM198 159.0h1V225.8h-1zM201 174.9h3V182.5h-3zM202 161.6h1V185.3h-1zM209 163.0h3V186.8h-3zM210 156.2h1V193.9h-1zM214 150.2h3V163.0h-3zM215 135.1h1V165.4h-1zM218 149.0h3V150.7h-3zM219 140.2h1V164.7h-1zM234 182.2h3V183.6h-3zM235 160.1h1V185.3h-1zM238 137.4h3V182.9h-3zM239 130.3h1V184.6h-1zM242 87.1h3V137.4h-3zM243 57.9h1V137.4h-1zM262 388.9h3V445.4h-3zM263 370.3h1V459.7h-1zM278 446.9h3V461.1h-3zM279 431.2h1V476.8h-1zM282 442.2h3V447.9h-3zM283 429.1h1V449.7h-1zM311 471.1h3V481.7h-3zM312 470.1h1V491.0h-1zM315 440.7h3V471.8h-3zM316 439.0h1V471.8h-1zM319 436.9h3V441.9h-3zM320 432.2h1V448.7h-1zM327 444.3h3V446.9h-3zM328 431.2h1V446.9h-1zM339 456.8h3V458.3h-3zM340 446.9h1V459.7h-1zM343 444.0h3V457.8h-3zM344 442.2h1V458.7h-1zM351 451.4h3V454.7h-3zM352 449.0h1V456.8h-1zM359 451.1h3V458.7h-3zM360 451.1h1V458.7h-1zM363 450.1h3V451.8h-3zM364 444.0h1V453.0h-1zM367 441.9h3V450.4h-3zM368 440.9h1V450.7h-1zM376 451.8h3V455.7h-3zM377 450.4h1V457.8h-1zM384 452.7h3V453.7h-3zM385 451.1h1V453.6h-1zM396 447.9h3V459.0h-3zM397 444.0h1V465.8h-1zM400 443.0h3V448.7h-3zM401 431.9h1V449.7h-1zM412 470.1h3V474.6h-3zM413 468.9h1V478.6h-1zM424 473.9h3V480.0h-3zM425 470.1h1V480.6h-1zM465 510.9h3V515.7h-3zM466 505.2h1V524.7h-1zM469 509.7h3V511.6h-3zM470 506.2h1V514.7h-1zM473 509.7h3V510.7h-3zM474 508.3h1V513.7h-1zM477 487.7h3V510.7h-3zM478 478.1h1V511.6h-1zM481 457.0h3V489.5h-3zM482 448.1h1V493.8h-1zM485 456.2h3V457.7h-3zM486 443.2h1V462.6h-1zM489 456.0h3V457.0h-3zM490 448.6h1V462.9h-1zM493 455.2h3V456.8h-3zM494 453.2h1V466.4h-1zM501 440.0h3V461.3h-3zM502 432.9h1V464.9h-1zM505 411.1h3V440.0h-3zM506 391.9h1V441.7h-1zM513 410.4h3V412.6h-3zM514 405.0h1V426.8h-1zM517 406.2h3V410.7h-3zM518 400.2h1V422.9h-1zM521 379.1h3V406.9h-3zM522 374.1h1V410.7h-1zM525 286.1h3V379.8h-3zM526 277.8h1V380.8h-1zM534 296.0h3V308.0h-3zM535 273.8h1V315.9h-1zM546 331.2h3V340.7h-3zM547 323.1h1V346.1h-1zM550 266.1h3V331.6h-3zM551 261.0h1V337.9h-1zM562 285.2h3V286.6h-3zM563 275.0h1V293.5h-1zM570 282.1h3V309.8h-3zM571 267.1h1V316.5h-1zM578 283.2h3V285.6h-3zM579 275.0h1V300.6h-1zM586 257.2h3V290.6h-3zM587 246.2h1V293.7h-1zM598 273.8h3V291.8h-3zM599 270.7h1V313.8h-1zM606 279.2h3V285.6h-3zM607 272.8h1V289.5h-1zM623 293.2h3V312.0h-3zM624 289.9h1V313.0h-1zM639 340.0h3V351.8h-3zM640 338.0h1V351.8h-1zM643 329.0h3V340.7h-3zM644 312.2h1V342.8h-1zM651 324.1h3V341.0h-3zM652 314.8h1V341.8h-1zM655 292.0h3V324.8h-3zM656 289.9h1V329.8h-1zM663 303.4h3V317.7h-3zM664 297.0h1V320.8h-1zM667 298.0h3V303.7h-3zM668 290.9h1V306.6h-1zM671 277.1h3V298.7h-3zM672 264.3h1V301.7h-1zM675 253.9h3V277.8h-3zM676 241.1h1V287.8h-1zM700 301.7h3V315.5h-3zM701 297.0h1V317.9h-1zM712 313.0h3V323.6h-3zM713 307.0h1V326.9h-1zM748 381.0h3V394.9h-3zM749 378.0h1V414.8h-1zM756 349.0h3V383.9h-3zM757 344.0h1V387.7h-1zM760 346.1h3V350.8h-3zM761 329.0h1V369.8h-1zM764 338.9h3V346.8h-3zM765 319.0h1V355.6h-1zM772 358.2h3V364.9h-3zM773 354.0h1V367.9h-1zM777 326.8h3V358.8h-3zM778 326.1h1V361.8h-1zM785 322.9h3V334.7h-3zM786 314.0h1V335.1h-1zM789 319.7h3V323.7h-3zM790 291.0h1V330.8h-1zM793 312.9h3V319.7h-3zM794 300.1h1V328.6h-1zM801 319.0h3V330.8h-3zM802 306.2h1V336.1h-1zM813 337.5h3V346.8h-3zM814 335.1h1V347.9h-1zM821 345.1h3V355.0h-3zM822 338.9h1V358.9h-1zM825 335.1h3V345.6h-3zM826 328.3h1V345.6h-1zM833 334.0h3V344.6h-3zM834 329.4h1V351.8h-1zM849 338.9h3V345.6h-3zM850 333.3h1V347.9h-1zM853 337.5h3V339.4h-3zM854 331.1h1V342.5h-1zM870 348.2h3V352.7h-3zM871 346.1h1V355.0h-1zM874 338.9h3V348.9h-3zM875 337.9h1V350.8h-1zM878 306.2h3V339.4h-3zM879 295.3h1V339.4h-1zM882 293.0h3V306.6h-3zM883 282.0h1V316.9h-1zM886 283.0h3V293.8h-3zM887 269.2h1V295.8h-1zM890 279.2h3V283.9h-3zM891 265.9h1V293.4h-1zM898 268.8h3V290.1h-3zM899 266.4h1V292.7h-1zM906 277.0h3V281.6h-3zM907 267.1h1V289.8h-1zM922 324.0h3V334.0h-3zM923 321.2h1V335.4h-1zM934 322.3h3V332.8h-3zM935 321.9h1V341.1h-1zM943 316.2h3V332.8h-3zM944 313.3h1V334.0h-1zM947 299.8h3V316.9h-3zM948 298.1h1V319.0h-1zM963 316.2h3V322.9h-3zM964 315.2h1V325.2h-1zM975 307.7h3V325.2h-3zM976 304.1h1V328.0h-1zM991 342.6h3V344.0h-3zM992 336.9h1V346.1h-1zM995 338.0h3V342.9h-3zM996 331.9h1V356.8h-1zM1003 338.0h3V350.8h-3zM1004 338.0h1V355.8h-1zM1011 338.3h3V340.0h-3zM1012 331.9h1V342.9h-1zM1015 336.9h3V338.6h-3zM1016 329.1h1V342.9h-1zM1024 335.7h3V342.9h-3zM1025 332.9h1V345.7h-1zM1032 346.8h3V348.0h-3zM1033 343.3h1V349.0h-1zM1048 351.8h3V360.8h-3zM1049 350.0h1V361.8h-1zM1056 363.9h3V365.6h-3zM1057 359.4h1V371.8h-1zM1060 362.8h3V364.6h-3zM1061 359.4h1V366.8h-1zM1064 345.4h3V363.6h-3zM1065 344.0h1V363.9h-1zM1068 340.0h3V346.1h-3zM1069 334.0h1V347.6h-1zM1076 333.3h3V345.1h-3zM1077 330.9h1V345.1h-1zM1088 332.9h3V345.1h-3zM1089 331.2h1V348.0h-1zM1096 323.8h3V335.2h-3zM1097 315.8h1V336.2h-1zM1105 346.8h3V352.8h-3zM1106 341.9h1V364.6h-1zM1113 370.1h3V375.0h-3zM1114 366.1h1V379.9h-1zM1141 435.0h3V439.7h-3zM1142 430.1h1V443.9h-1zM1145 426.2h3V435.0h-3zM1146 424.0h1V440.8h-1zM1149 420.9h3V426.6h-3zM1150 413.1h1V428.7h-1zM1157 414.1h3V425.0h-3zM1158 413.1h1V425.9h-1zM1161 404.5h3V414.8h-3zM1162 404.1h1V419.8h-1zM1165 396.0h3V405.9h-3zM1166 393.1h1V406.9h-1zM1173 397.7h3V406.5h-3zM1174 391.3h1V412.6h-1zM1182 399.1h3V405.5h-3zM1183 394.1h1V405.9h-1zM1190 404.8h3V411.6h-3zM1191 401.3h1V412.6h-1zM1198 384.2h3V416.9h-3zM1199 380.1h1V416.9h-1zM1202 370.1h3V384.9h-3zM1203 353.4h1V398.4h-1zM1210 360.8h3V374.0h-3zM1211 357.0h1V376.0h-1zM1226 358.9h3V368.9h-3zM1227 336.8h1V371.0h-1zM1230 329.0h3V360.0h-3zM1231 323.0h1V363.8h-1zM1234 324.0h3V329.7h-3zM1235 313.1h1V331.8h-1zM1246 320.2h3V333.0h-3zM1247 315.1h1V334.0h-1zM1254 258.2h3V322.6h-3zM1255 245.1h1V329.7h-1zM1259 247.9h3V258.6h-3zM1260 162.1h1V269.9h-1zM1263 235.1h3V248.5h-3zM1264 209.1h1V250.8h-1zM1279 253.2h3V267.5h-3zM1280 243.2h1V268.9h-1zM1287 266.1h3V268.9h-3zM1288 258.1h1V272.8h-1zM1295 277.8h3V282.8h-3zM1296 269.9h1V287.0h-1zM1307 270.9h3V301.7h-3zM1308 262.8h1V303.1h-1zM1319 270.9h3V277.8h-3zM1320 267.8h1V277.8h-1zM1331 288.9h3V294.8h-3zM1332 287.0h1V307.9h-1zM1344 309.1h3V311.9h-3zM1345 296.0h1V314.1h-1zM1352 302.0h3V311.6h-3zM1353 298.0h1V311.9h-1zM1360 286.0h3V304.8h-3zM1361 277.1h1V304.8h-1zM1364 284.2h3V287.0h-3zM1365 274.2h1V288.0h-1zM1368 279.9h3V284.9h-3zM1369 276.1h1V288.0h-1zM1376 274.9h3V281.3h-3zM1377 269.9h1V283.2h-1zM1384 270.9h3V287.7h-3zM1385 268.9h1V289.4h-1zM1404 323.0h3V331.8h-3zM1405 317.9h1V331.8h-1zM1421 324.7h3V343.9h-3zM1422 324.0h1V346.8h-1zM1437 340.1h3V348.6h-3zM1438 337.8h1V348.9h-1zM1445 323.0h3V344.9h-3zM1446 320.0h1V350.8h-1zM1461 360.0h3V363.7h-3zM1462 356.9h1V365.7h-1zM1465 359.0h3V360.4h-3zM1466 358.0h1V364.7h-1zM1473 348.1h3V360.9h-3zM1474 342.9h1V368.0h-1zM1481 354.0h3V358.6h-3zM1482 352.9h1V362.9h-1zM1502 385.1h3V388.9h-3zM1503 371.1h1V390.8h-1zM1506 378.2h3V385.6h-3zM1507 375.1h1V388.9h-1zM1510 371.1h3V378.5h-3zM1511 362.9h1V378.9h-1zM1514 366.1h3V371.8h-3zM1515 360.0h1V375.0h-1zM1526 358.0h3V372.3h-3zM1527 350.1h1V375.0h-1zM1530 351.9h3V358.6h-3zM1531 346.2h1V360.4h-1zM1534 348.1h3V352.9h-3zM1535 344.1h1V355.2h-1zM1546 360.9h3V362.3h-3zM1547 359.0h1V363.7h-1zM1554 360.9h3V363.7h-3zM1555 356.9h1V366.8h-1zM1562 366.6h3V369.0h-3zM1563 361.9h1V371.8h-1zM1566 353.3h3V366.8h-3zM1567 352.9h1V366.8h-1zM1570 347.2h3V354.0h-3zM1571 344.8h1V354.8h-1zM1574 331.3h3V348.1h-3zM1575 324.2h1V349.8h-1zM1578 292.1h3V332.0h-3zM1579 282.1h1V335.3h-1zM1587 296.3h3V299.9h-3zM1588 278.3h1V301.8h-1zM1599 299.1h3V310.8h-3zM1600 293.2h1V310.8h-1zM1615 319.1h3V320.8h-3zM1616 314.1h1V325.6h-1zM1627 323.9h3V332.7h-3zM1628 318.2h1V335.3h-1zM1631 321.0h3V323.9h-3zM1632 315.9h1V324.2h-1zM1639 291.2h3V322.8h-3zM1640 278.3h1V322.8h-1zM1651 275.2h3V299.9h-3zM1652 261.9h1V303.7h-1zM1655 242.0h3V276.0h-3zM1656 235.0h1V277.5h-1zM1659 206.3h3V242.5h-3zM1660 190.8h1V247.5h-1zM1668 165.8h3V210.7h-3zM1669 151.1h1V214.4h-1zM1676 148.2h3V193.9h-3zM1677 133.8h1V196.1h-1z" fill="#26a69a"/></g>
<path d="M11 148.5H1695" stroke="#26a69a" stroke-width="1" stroke-dasharray="1 2" fill="none"/>
<g clip-path="url(#cr)"><path d="M10.4 678.2L12.6 672.0L16.7 669.4L20.7 669.7L24.8 649.0L28.8 686.9L32.9 678.2L36.9 685.1L41.0 690.9L45.0 678.9L49.1 695.8L53.1 683.9L57.2 691.2L61.2 696.1L65.2 682.0L69.3 673.1L73.4 675.1L77.4 682.8L81.5 670.5L85.5 680.2L89.6 675.9L93.6 670.0L97.7 676.2L101.7 682.3L105.8 685.4L109.8 677.4L113.8 666.4L117.9 667.0L122.0 674.0L126.0 677.7L130.1 682.0L134.1 678.2L138.2 688.5L142.2 699.2L146.2 694.3L150.3 700.1L154.3 704.7L158.4 708.4L162.4 699.2L166.5 685.4L170.6 696.6L174.6 707.3L178.7 713.9L182.7 712.7L186.8 713.9L190.8 694.3L194.8 704.2L198.9 672.8L202.9 668.5L207.0 676.2L211.1 660.8L215.1 654.1L219.1 653.2L223.2 657.5L227.2 662.8L231.3 680.2L235.4 679.3L239.4 649.0L243.4 628.3L247.5 669.0L251.6 691.1L255.6 715.5L259.6 741.5L263.7 720.8L267.8 723.1L271.8 728.1L275.9 731.1L279.9 726.2L283.9 724.4L288.0 724.7L292.1 726.5L296.1 728.1L300.1 729.6L304.2 731.6L308.2 732.8L312.3 726.2L316.3 709.0L320.4 707.5L324.4 710.3L328.5 708.7L332.6 709.0L336.6 713.9L340.6 713.9L344.7 704.0L348.8 709.0L352.8 706.3L356.8 709.3L360.9 704.0L364.9 702.1L369.0 695.5L373.0 703.5L377.1 700.1L381.1 701.4L385.2 701.4L389.2 703.2L393.3 704.7L397.3 693.2L401.4 688.6L405.4 690.2L409.5 713.6L413.5 708.1L417.6 710.1L421.6 715.2L425.7 707.8L429.8 709.3L433.8 713.6L437.8 714.3L441.9 718.9L445.9 720.1L450.0 721.3L454.0 724.4L458.1 740.8L462.1 741.9L466.2 733.1L470.2 730.8L474.3 730.0L478.3 677.9L482.4 651.8L486.4 651.1L490.5 651.1L494.5 649.5L498.6 660.0L502.6 639.6L506.7 619.2L510.7 620.3L514.8 618.8L518.9 616.5L522.9 602.7L527.0 578.9L531.0 600.4L535.0 597.8L539.1 608.5L543.1 636.1L547.2 632.6L551.2 612.2L555.3 622.6L559.4 626.4L563.4 625.7L567.5 643.3L571.5 633.0L575.5 634.9L579.6 634.6L583.6 639.5L587.7 627.2L591.8 650.2L595.8 651.0L599.9 642.8L603.9 650.5L608.0 647.9L612.0 652.0L616.1 660.6L620.1 670.6L624.1 659.7L628.2 666.3L632.2 691.6L636.3 694.7L640.4 687.0L644.4 679.8L648.5 686.2L652.5 675.5L656.6 657.6L660.6 672.9L664.6 665.9L668.7 662.8L672.8 652.0L676.8 641.8L680.9 655.6L684.9 663.7L689.0 666.3L693.0 675.1L697.1 680.9L701.1 672.0L705.1 677.8L709.2 685.2L713.2 678.6L717.3 683.2L721.4 689.3L725.4 693.9L729.5 694.2L733.5 697.1L737.6 700.8L741.6 718.1L745.6 725.8L749.7 712.4L753.8 713.1L757.8 684.4L761.9 681.8L765.9 676.2L770.0 693.6L774.0 687.9L778.1 666.4L782.1 670.6L786.1 664.0L790.2 660.9L794.2 657.2L798.3 671.3L802.4 662.9L806.4 680.5L810.5 683.3L814.5 676.7L818.6 688.2L822.6 680.8L826.6 673.2L830.7 679.8L834.8 671.6L838.8 673.2L842.9 680.5L846.9 681.8L851.0 674.4L855.0 673.6L859.1 678.7L863.1 682.1L867.1 689.0L871.2 684.4L875.2 672.6L879.3 643.0L883.4 634.5L887.4 628.1L891.5 625.3L895.5 639.1L899.5 626.6L903.6 640.7L907.6 638.4L911.7 671.6L915.8 677.5L919.8 689.0L923.9 681.0L927.9 684.8L932.0 686.4L936.0 677.8L940.0 686.7L944.1 671.3L948.1 658.8L952.2 660.6L956.2 667.5L960.3 679.3L964.4 674.7L968.4 674.7L972.5 683.3L976.5 666.0L980.5 679.8L984.6 683.9L988.6 697.1L992.7 696.6L996.8 691.7L1000.8 701.4L1004.9 687.9L1008.9 688.6L1013.0 687.1L1017.0 686.3L1021.0 691.2L1025.1 683.3L1029.1 695.2L1033.2 694.9L1037.2 696.3L1041.3 707.8L1045.3 709.0L1049.4 695.8L1053.5 709.0L1057.5 708.1L1061.5 705.0L1065.6 677.9L1069.6 670.2L1073.7 675.3L1077.8 661.8L1081.8 671.3L1085.8 678.4L1089.9 662.6L1094.0 664.1L1098.0 652.9L1102.0 687.9L1106.1 681.0L1110.1 704.7L1114.2 700.4L1118.2 717.0L1122.3 730.8L1126.3 731.6L1130.4 734.2L1134.5 735.4L1138.5 739.7L1142.5 733.1L1146.6 720.8L1150.7 713.9L1154.7 716.2L1158.8 700.1L1162.8 689.4L1166.8 680.5L1170.9 689.7L1175.0 681.0L1179.0 688.2L1183.0 682.5L1187.1 693.2L1191.2 686.0L1195.2 696.3L1199.2 662.6L1203.3 652.6L1207.3 654.9L1211.4 646.2L1215.5 649.5L1219.5 652.3L1223.5 654.9L1227.6 645.7L1231.7 625.2L1235.7 622.6L1239.8 632.8L1243.8 633.3L1247.8 625.6L1251.9 628.2L1256.0 599.6L1260.0 596.5L1264.0 592.4L1268.1 593.4L1272.2 605.7L1276.2 629.2L1280.2 623.0L1284.3 638.4L1288.3 637.4L1292.4 652.5L1296.5 650.2L1300.5 669.6L1304.5 671.2L1308.6 650.2L1312.7 651.2L1316.7 655.2L1320.8 651.7L1324.8 665.5L1328.8 673.2L1332.9 668.6L1337.0 680.8L1341.0 687.4L1345.0 685.0L1349.1 687.0L1353.2 677.8L1357.2 678.9L1361.2 662.0L1365.3 659.4L1369.3 656.3L1373.4 655.8L1377.5 651.7L1381.5 666.0L1385.5 650.9L1389.6 675.5L1393.7 690.8L1397.7 703.8L1401.8 707.2L1405.8 697.5L1409.8 699.1L1413.9 706.3L1418.0 713.2L1422.0 691.5L1426.0 700.4L1430.1 706.9L1434.2 708.6L1438.2 698.9L1442.2 701.7L1446.3 680.1L1450.3 693.2L1454.4 705.5L1458.5 709.6L1462.5 706.5L1466.5 705.1L1470.6 706.1L1474.7 690.7L1478.7 699.4L1482.8 693.8L1486.8 698.4L1490.8 701.1L1494.9 716.4L1499.0 722.4L1503.0 717.5L1507.0 705.4L1511.1 696.0L1515.2 690.5L1519.2 690.8L1523.2 696.3L1527.3 677.0L1531.3 669.3L1535.4 665.0L1539.5 681.9L1543.5 682.4L1547.5 681.2L1551.6 683.9L1555.7 682.8L1559.7 691.1L1563.8 688.1L1567.8 666.3L1571.8 658.6L1575.9 637.9L1580.0 611.8L1584.0 623.3L1588.0 621.5L1592.1 631.8L1596.2 642.0L1600.2 633.3L1604.2 635.9L1608.3 637.9L1612.3 662.4L1616.4 662.1L1620.5 664.4L1624.5 679.3L1628.5 668.6L1632.6 665.5L1636.7 667.0L1640.7 635.3L1644.8 636.4L1648.8 648.2L1652.8 627.9L1656.9 610.3L1661.0 599.1L1665.0 604.2L1669.0 591.4L1673.1 618.4L1677.1 604.9" stroke="#7e57c2" stroke-width="2" fill="none" stroke-linejoin="round" stroke-linecap="round" /></g>
<path d="M1753.5 27.5V780M10 569.5H1817M10 752.5H1817" stroke="#dcdfe6" stroke-width="1" fill="none"/>
<rect x="10.1" y="27.2" width="1806.9" height="752.8" stroke="#e0e3eb" stroke-width="1.5" fill="none"/>
<text x="10" y="18.9" font-size="13" textLength="360.5" lengthAdjust="spacingAndGlyphs">ranadagger published on TradingView.com, Oct 25, 2023 15:06 UTC</text>
<text x="18.1" y="45.6" textLength="156.5" lengthAdjust="spacingAndGlyphs">SOL / TetherUS, 1D, BINANCE</text>
<text x="183" y="45.6" textLength="7.7" lengthAdjust="spacingAndGlyphs">O</text>
<text x="191.2" y="45.6" fill="#26a69a" textLength="28.8" lengthAdjust="spacingAndGlyphs">30.18</text>
<text x="228" y="45.6" textLength="8" lengthAdjust="spacingAndGlyphs">H</text>
<text x="236.5" y="45.6" fill="#26a69a" textLength="28.8" lengthAdjust="spacingAndGlyphs">33.90</text>
<text x="273.3" y="45.6" textLength="5.6" lengthAdjust="spacingAndGlyphs">L</text>
<text x="279.3" y="45.6" fill="#26a69a" textLength="28.3" lengthAdjust="spacingAndGlyphs">30.00</text>
<text x="315.6" y="45.6" textLength="7" lengthAdjust="spacingAndGlyphs">C</text>
<text x="323" y="45.6" fill="#26a69a" textLength="28.6" lengthAdjust="spacingAndGlyphs">33.00</text>
<text x="359.7" y="45.6" fill="#26a69a" textLength="77.8" lengthAdjust="spacingAndGlyphs">+2.83 (+9.38%)</text>
<text x="18.1" y="62.6" textLength="96" lengthAdjust="spacingAndGlyphs">EMA (20, close, 0)</text>
<text x="122.2" y="62.6" fill="#0c2f91" textLength="29.2" lengthAdjust="spacingAndGlyphs">26.08</text>
<text x="18.1" y="79.7" textLength="89.7" lengthAdjust="spacingAndGlyphs">MA (50, close, 0)</text>
<text x="115.6" y="79.7" fill="#f23645" textLength="29.4" lengthAdjust="spacingAndGlyphs">22.00</text>
<text x="18.1" y="588.5" textLength="76" lengthAdjust="spacingAndGlyphs">RSI (14, close)</text>
<text x="102" y="588.5" fill="#7e57c2" textLength="29" lengthAdjust="spacingAndGlyphs">77.42</text>
<text x="1761.2" y="544.9" textLength="23" lengthAdjust="spacingAndGlyphs">8.00</text>
<text x="1761.2" y="513.5" textLength="29.2" lengthAdjust="spacingAndGlyphs">10.00</text>
<text x="1761.2" y="482.1" textLength="29.2" lengthAdjust="spacingAndGlyphs">12.00</text>
<text x="1761.2" y="450.7" textLength="29.2" lengthAdjust="spacingAndGlyphs">14.00</text>
<text x="1761.2" y="419.3" textLength="29.2" lengthAdjust="spacingAndGlyphs">16.00</text>
<text x="1761.2" y="387.8" textLength="29.2" lengthAdjust="spacingAndGlyphs">18.00</text>
<text x="1761.2" y="356.4" textLength="29.2" lengthAdjust="spacingAndGlyphs">20.00</text>
<text x="1761.2" y="325.0" textLength="29.2" lengthAdjust="spacingAndGlyphs">22.00</text>
<text x="1761.2" y="293.6" textLength="29.2" lengthAdjust="spacingAndGlyphs">24.00</text>
<text x="1761.2" y="230.8" textLength="29.2" lengthAdjust="spacingAndGlyphs">28.00</text>
<text x="1761.2" y="199.4" textLength="29.2" lengthAdjust="spacingAndGlyphs">30.00</text>
<text x="1761.2" y="136.6" textLength="29.2" lengthAdjust="spacingAndGlyphs">34.00</text>
<text x="1761.2" y="105.2" textLength="29.2" lengthAdjust="spacingAndGlyphs">36.00</text>
<text x="1761.2" y="73.8" textLength="29.2" lengthAdjust="spacingAndGlyphs">38.00</text>
<text x="1761.2" y="603.4" textLength="29.2" lengthAdjust="spacingAndGlyphs">80.00</text>
<text x="1761.2" y="654.0" textLength="29.2" lengthAdjust="spacingAndGlyphs">60.00</text>
<text x="1761.2" y="704.6" textLength="29.2" lengthAdjust="spacingAndGlyphs">40.00</text>
<text x="1761.2" y="755.2" textLength="29.2" lengthAdjust="spacingAndGlyphs">20.00</text>
<rect x="1754.2" y="753.2" width="62" height="26" fill="#fff"/>
<rect x="1757" y="31.5" width="56" height="25.5" rx="4" fill="#fff" stroke="#e0e3eb" stroke-width="1.2"/>
<text x="1766.1" y="48.9" textLength="27.6" lengthAdjust="spacingAndGlyphs">USDT</text>
<text x="101.1" y="769.7" text-anchor="middle">Oct</text>
<text x="226.7" y="769.7" text-anchor="middle">Nov</text>
<text x="348.1" y="769.7" text-anchor="middle">Dec</text>
<text x="460.1" y="769.7" font-weight="bold" textLength="27.2" lengthAdjust="spacingAndGlyphs">2023</text>
<text x="599.2" y="769.7" text-anchor="middle">Feb</text>
<text x="712.6" y="769.7" text-anchor="middle">Mar</text>
<text x="838.2" y="769.7" text-anchor="middle">Apr</text>
<text x="959.7" y="769.7" text-anchor="middle">May</text>
<text x="1085.2" y="769.7" text-anchor="middle">Jun</text>
<text x="1206.8" y="769.7" text-anchor="middle">Jul</text>
<text x="1332.3" y="769.7" text-anchor="middle">Aug</text>
<text x="1457.9" y="769.7" text-anchor="middle">Sep</text>
<text x="1579.4" y="769.7" text-anchor="middle">Oct</text>
<text x="1704.9" y="769.7" text-anchor="middle">Nov</text>
<path d="M1753.2 233H1794a2 2 0 0 1 2 2V248a2 2 0 0 1 -2 2H1753.2z" fill="#0000ff"/>
<text x="1761.1" y="246.0" fill="#fff" stroke="#fff" stroke-width="0.3" textLength="29" lengthAdjust="spacingAndGlyphs">27.12</text>
<path d="M1722 250.3H1752V266.90000000000003H1722a2 2 0 0 1 -2 -2V252.3a2 2 0 0 1 2 -2z" fill="#0c2f91"/>
<text x="1725.2" y="262.7" fill="#fff" stroke="#fff" stroke-width="0.3" textLength="22.2" lengthAdjust="spacingAndGlyphs">EMA</text>
<path d="M1753.2 250.3H1794a2 2 0 0 1 2 2V264.90000000000003a2 2 0 0 1 -2 2H1753.2z" fill="#0c2f91"/>
<text x="1761.1" y="262.7" fill="#fff" stroke="#fff" stroke-width="0.3" textLength="29" lengthAdjust="spacingAndGlyphs">26.08</text>
<path d="M1729 313.2H1752V329.9H1729a2 2 0 0 1 -2 -2V315.2a2 2 0 0 1 2 -2z" fill="#f23645"/>
<text x="1731.5" y="325.59999999999997" fill="#fff" stroke="#fff" stroke-width="0.3" textLength="15.8" lengthAdjust="spacingAndGlyphs">MA</text>
<path d="M1753.2 313.2H1794a2 2 0 0 1 2 2V327.9a2 2 0 0 1 -2 2H1753.2z" fill="#f23645"/>
<text x="1761.1" y="325.59999999999997" fill="#fff" stroke="#fff" stroke-width="0.3" textLength="29" lengthAdjust="spacingAndGlyphs">22.00</text>
<path d="M1753.2 439H1794a2 2 0 0 1 2 2V454a2 2 0 0 1 -2 2H1753.2z" fill="#0000ff"/>
<text x="1761.1" y="451.4" fill="#fff" stroke="#fff" stroke-width="0.3" textLength="29" lengthAdjust="spacingAndGlyphs">14.00</text>
<path d="M1728 597.1H1752V613.8000000000001H1728a2 2 0 0 1 -2 -2V599.1a2 2 0 0 1 2 -2z" fill="#7e57c2"/>
<text x="1731.5" y="609.5" fill="#fff" stroke="#fff" stroke-width="0.3" textLength="15" lengthAdjust="spacingAndGlyphs">RSI</text>
<path d="M1753.2 597.1H1794a2 2 0 0 1 2 2V611.8000000000001a2 2 0 0 1 -2 2H1753.2z" fill="#7e57c2"/>
<text x="1761.1" y="609.5" fill="#fff" stroke="#fff" stroke-width="0.3" textLength="29" lengthAdjust="spacingAndGlyphs">77.42</text>
<path d="M1697 140H1752V156.8H1697a2 2 0 0 1 -2 -2V142a2 2 0 0 1 2 -2z" fill="#26a69a"/>
<text x="1699" y="152.6" fill="#fff" stroke="#fff" stroke-width="0.3" textLength="47.3" lengthAdjust="spacingAndGlyphs">SOLUSDT</text>
<path d="M1753.2 140H1811a2 2 0 0 1 2 2V183a2 2 0 0 1 -2 2H1753.2z" fill="#26a69a"/>
<text x="1761" y="152.8" fill="#fff" stroke="#fff" stroke-width="0.3" textLength="29.2" lengthAdjust="spacingAndGlyphs">33.00</text>
<text x="1761" y="166.8" fill="#fff" stroke="#fff" stroke-width="0.3" textLength="36.5" lengthAdjust="spacingAndGlyphs">−1.84%</text>
<text x="1761" y="180.7" fill="#fff" stroke="#fff" stroke-width="0.3" fill-opacity="0.75" textLength="46.3" lengthAdjust="spacingAndGlyphs">08:53:45</text>
<path d="M9.9 792.1H17.7V802H13.6V795.5H9.9zM24.1 792.1H29.6L26.4 802H21.9z" fill="#131722"/><circle cx="20.9" cy="793.9" r="1.85" fill="#131722"/>
<text x="33.5" y="802" font-size="13.5" textLength="69.8" lengthAdjust="spacingAndGlyphs">TradingView</text>
</svg>
</body></html>
